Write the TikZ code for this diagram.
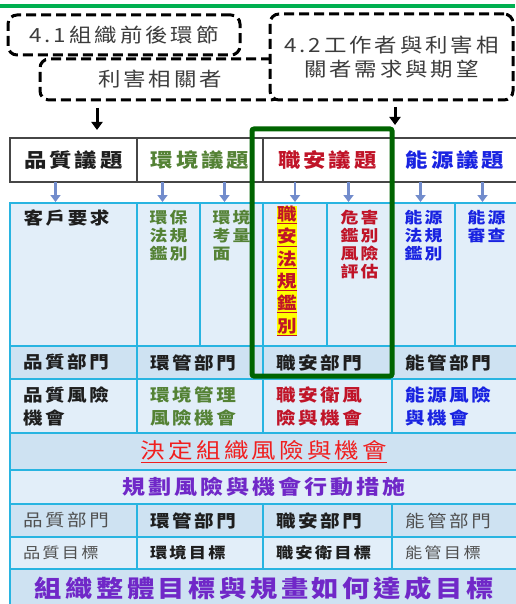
\documentclass[tikz,border=0pt]{standalone}
\usepackage{fontspec}
\setmainfont{Noto Sans CJK TC}[FakeStretch=1.15, LetterSpace=15]
\usepackage{xcolor}
\usetikzlibrary{positioning, arrows.meta, calc}

\definecolor{topgreen}{RGB}{0,176,80}
\definecolor{framegreen}{RGB}{0,100,0}
\definecolor{boxtext}{RGB}{60,60,60}
\definecolor{hdrline}{RGB}{70,70,70}
\definecolor{cellline}{RGB}{40,180,225}
\definecolor{celllight}{RGB}{226,238,249}
\definecolor{celldark}{RGB}{206,226,242}
\definecolor{arrowblue}{RGB}{114,140,204}
\definecolor{qblack}{RGB}{30,30,30}
\definecolor{egreen}{RGB}{84,130,53}
\definecolor{sred}{RGB}{192,20,40}
\definecolor{nblue}{RGB}{25,35,225}
\definecolor{dred}{RGB}{240,30,30}
\definecolor{planpurple}{RGB}{112,40,200}
\definecolor{mgray}{RGB}{80,80,80}
\definecolor{hilite}{RGB}{255,255,0}

\begin{document}
\begin{tikzpicture}[
      x=1pt, y=-1pt,
      every node/.style = {inner sep=0pt, outer sep=0pt},
      dashbox/.style = {draw=black, fill=white, line width=3pt, dash pattern=on 10pt off 5pt,
                        rounded corners=9pt, anchor=north west, align=center, text=boxtext,
                        font=\fontsize{19.5}{24}\selectfont},
      headcell/.style = {draw=hdrline, line width=1.2pt, fill=white, anchor=north west,
                         minimum height=44pt, font=\fontsize{19.5}{22}\selectfont\bfseries},
      cell/.style = {draw=cellline, line width=1.2pt, fill=celllight, anchor=north west},
      dcell/.style = {cell, fill=celldark},
      lefttext/.style = {inner xsep=13pt, align=left},
      colfont/.style = {anchor=north, align=center, font=\fontsize{15.5}{18}\selectfont\bfseries},
      deptfont/.style = {font=\fontsize{17}{23}\selectfont\bfseries},
      blkarr/.style = {-{Triangle[width=11pt, length=8pt]}, line width=3pt, color=black},
      bluearr/.style = {-{Triangle[width=10pt, length=7pt]}, line width=2.6pt, color=arrowblue,
                        shorten >=1pt}
    ]
    \useasboundingbox (0,0) rectangle (515,604);
    \draw[topgreen, line width=4pt] (0,6) -- (515,6);

    % clauses 4.1 / 4.2
    \node[dashbox, minimum width=240pt, minimum height=41pt] (lk) at (40,59) {利害相關者};
    \node[dashbox, minimum width=232pt, minimum height=40pt] (ctx) at (8,15) {4.1組織前後環節};
    \node[dashbox, minimum width=243pt, minimum height=86pt] (wk) at (270,14)
         {4.2工作者與利害相\\關者需求與期望};

    % issue headers
    \node[headcell, minimum width=127pt, text=qblack]     (hq) at (10,138)  {品質議題};
    \node[headcell, minimum width=126pt, text=egreen]     (he) at (137,138) {環境議題};
    \node[headcell, minimum width=129pt, text=sred]       (hs) at (263,138) {職安議題};
    \node[headcell, minimum width=126pt, text=nblue]      (hn) at (392,138) {能源議題};

    % requirement cells
    \node[cell, minimum width=127pt, minimum height=143pt] (kh) at (10,203)  {};
    \node[cell, minimum width=63pt,  minimum height=143pt] (ef) at (137,203) {};
    \node[cell, minimum width=63pt,  minimum height=143pt] (ea) at (200,203) {};
    \node[cell, minimum width=64pt,  minimum height=143pt] (sl) at (263,203) {};
    \node[cell, minimum width=65pt,  minimum height=143pt] (sh) at (327,203) {};
    \node[cell, minimum width=63pt,  minimum height=143pt] (nl) at (392,203) {};
    \node[cell, minimum width=63pt,  minimum height=143pt] (nr) at (455,203) {};

    \node[colfont, font=\fontsize{17}{20}\selectfont\bfseries, text=qblack] (khtxt)
         at ([xshift=-7pt, yshift=-7pt]kh.north) {客戶要求};
    \node[colfont, text=egreen] (eftxt) at ([yshift=-7pt]ef.north) {環保\\法規\\鑑別};
    \node[colfont, text=egreen, align=left] (eatxt) at ([yshift=-7pt]ea.north) {環境\\考量\\面};
    \node[colfont, fill=hilite, text=sred, font=\fontsize{17}{22.3}\selectfont\bfseries] (sltxt)
         at ([xshift=-8pt, yshift=-3pt]sl.north)
         {\underline{職}\\\underline{安}\\\underline{法}\\\underline{規}\\\underline{鑑}\\\underline{別}};
    \node[colfont, text=sred] (shtxt) at ([yshift=-7pt]sh.north) {危害\\鑑別\\風險\\評估};
    \node[colfont, text=nblue] (nltxt) at ([yshift=-7pt]nl.north) {能源\\法規\\鑑別};
    \node[colfont, text=nblue] (nrtxt) at ([yshift=-7pt]nr.north) {能源\\審查};

    % departments and risks
    \node[dcell, lefttext, deptfont, text width=101pt, minimum height=33pt, text=qblack] (qd) at (10,346)  {品質部門};
    \node[dcell, lefttext, deptfont, text width=100pt, minimum height=33pt, text=qblack] (ed) at (137,346) {環管部門};
    \node[dcell, lefttext, deptfont, text width=103pt, minimum height=33pt, text=qblack] (sd) at (263,346) {職安部門};
    \node[dcell, lefttext, deptfont, text width=100pt, minimum height=33pt, text=qblack] (nd) at (392,346) {能管部門};

    \node[cell, lefttext, deptfont, text width=101pt, minimum height=54pt, text=qblack] (qr) at (10,379)  {品質風險\\機會};
    \node[cell, lefttext, deptfont, text width=100pt, minimum height=54pt, text=egreen] (er) at (137,379) {環境管理\\風險機會};
    \node[cell, lefttext, deptfont, text width=103pt, minimum height=54pt, text=sred]   (sr) at (263,379) {職安衛風\\險與機會};
    \node[cell, lefttext, deptfont, text width=100pt, minimum height=54pt, text=nblue]  (nr2) at (392,379) {能源風險\\與機會};

    % organisation level
    \node[dcell, minimum width=508pt, minimum height=37pt, text=dred,
          font=\fontsize{21.3}{24}\selectfont] (decide) at (10,433) {\underline{決定組織風險與機會}};
    \node[cell, minimum width=508pt, minimum height=34pt, text=planpurple,
          font=\fontsize{20}{24}\selectfont\bfseries] (plan) at (10,470) {規劃風險與機會行動措施};

    \node[dcell, lefttext, text width=101pt, minimum height=33pt, text=mgray,
          font=\fontsize{17}{20}\selectfont] (qd2) at (10,504)  {品質部門};
    \node[dcell, lefttext, deptfont, text width=100pt, minimum height=33pt, text=qblack] (ed2) at (137,504) {環管部門};
    \node[dcell, lefttext, deptfont, text width=103pt, minimum height=33pt, text=qblack] (sd2) at (263,504) {職安部門};
    \node[dcell, lefttext, text width=100pt, minimum height=33pt, text=mgray,
          font=\fontsize{17}{20}\selectfont] (nd2) at (392,504) {能管部門};

    \node[cell, lefttext, text width=101pt, minimum height=32pt, text=mgray,
          font=\fontsize{15}{18}\selectfont] (qg) at (10,537)  {品質目標};
    \node[cell, lefttext, text width=100pt, minimum height=32pt, text=qblack,
          font=\fontsize{15}{18}\selectfont\bfseries] (eg) at (137,537) {環境目標};
    \node[cell, lefttext, text width=103pt, minimum height=32pt, text=qblack,
          font=\fontsize{15}{18}\selectfont\bfseries] (sg) at (263,537) {職安衛目標};
    \node[cell, lefttext, text width=100pt, minimum height=32pt, text=mgray,
          font=\fontsize{15}{18}\selectfont] (ng) at (392,537) {能管目標};

    \node[dcell, minimum width=508pt, minimum height=39pt, text=planpurple,
          font=\fontsize{23.7}{26}\selectfont\bfseries] (goal) at (10,569) {組織整體目標與規畫如何達成目標};

    % OH&S focus frame
    \node[draw=framegreen, line width=5pt, rounded corners=2pt, anchor=north west,
          minimum width=140pt, minimum height=247pt] (sfocus) at (252,129) {};

    % arrows
    \coordinate (lkdrop) at (97,0);
    \coordinate (wkdrop) at (395,0);
    \draw[blkarr, shorten <=8pt, shorten >=8pt] (lkdrop |- lk.south) -- (lkdrop |- hq.north);
    \draw[blkarr, shorten <=7pt, shorten >=13pt] (wkdrop |- wk.south) -- (wkdrop |- hq.north);
    \foreach \c/\s in {kh/-18, ef/-6, ea/-7, sl/0, sh/-11, nl/-3, nr/-4}
      \draw[bluearr] ([xshift=\s pt]\c.north |- hq.south) -- ([xshift=\s pt]\c.north);
  \end{tikzpicture}
\end{document}
